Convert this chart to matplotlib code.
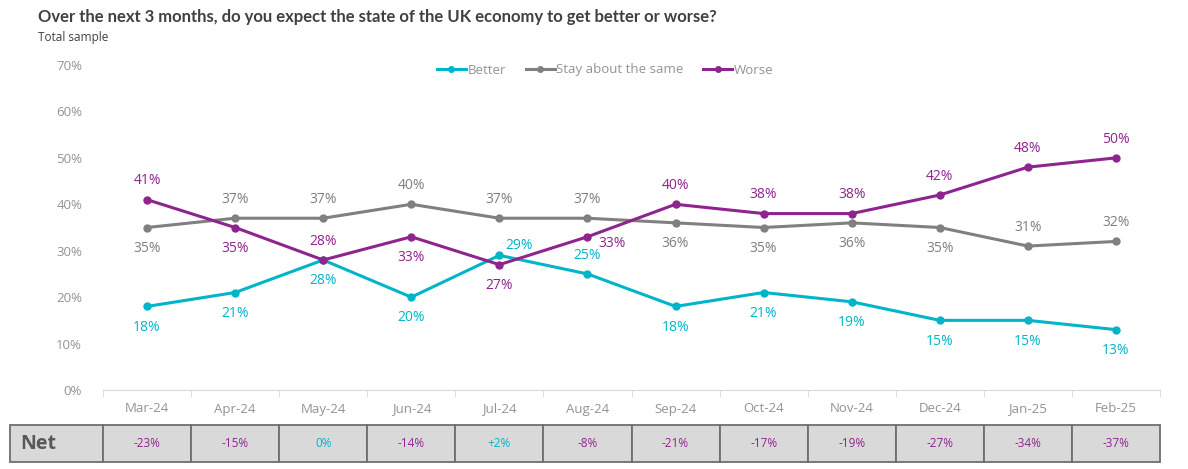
import matplotlib.pyplot as plt
from matplotlib.patches import Rectangle
from matplotlib.lines import Line2D

months = ["Mar-24", "Apr-24", "May-24", "Jun-24", "Jul-24", "Aug-24",
          "Sep-24", "Oct-24", "Nov-24", "Dec-24", "Jan-25", "Feb-25"]
better = [18, 21, 28, 20, 29, 25, 18, 21, 19, 15, 15, 13]
same = [35, 37, 37, 40, 37, 37, 36, 35, 36, 35, 31, 32]
worse = [41, 35, 28, 33, 27, 33, 40, 38, 38, 42, 48, 50]
net = [-23, -15, 0, -14, 2, -8, -21, -17, -19, -27, -34, -37]

# label placement per point: 'a' above, 'b' below, 'r' right-up, 'rd' right-down
better_pos = ["b", "b", "b", "b", "r", "a", "b", "b", "b", "b", "b", "b"]
same_pos = ["b", "a", "a", "a", "a", "a", "b", "b", "b", "b", "a", "a"]
worse_pos = ["a", "b", "a", "b", "b", "rd", "a", "a", "a", "a", "a", "a"]

C_BETTER = "#00b5c9"
C_SAME = "#808080"
C_WORSE = "#8e248e"

plt.rcParams['font.family'] = ['Open Sans', 'DejaVu Sans']

W, H = 1188, 469
fig = plt.figure(figsize=(W / 100, H / 100), dpi=100)

x0, x1 = 103, 1160
y0, y70 = 390, 65
ax = fig.add_axes([x0 / W, 1 - y0 / H, (x1 - x0) / W, (y0 - y70) / H])

xs = list(range(len(months)))
offsets = {"a": (0, 13.5), "b": (0, -15), "r": (14, 7), "rd": (18, -5)}

for vals, pos, col, name in [(better, better_pos, C_BETTER, "Better"),
                             (same, same_pos, C_SAME, "Stay about the same"),
                             (worse, worse_pos, C_WORSE, "Worse")]:
    ax.plot(xs, vals, color=col, lw=2.2, marker="o", ms=5, label=name,
            solid_capstyle="round")
    for x, v, p in zip(xs, vals, pos):
        dx, dy = offsets[p]
        ax.annotate(f"{v}%", (x, v), xytext=(dx, dy), textcoords="offset points",
                    ha="center", va="center", fontsize=10, color=col)

ax.set_xlim(-0.5, len(months) - 0.5)
ax.set_ylim(0, 70)
ax.set_yticks(range(0, 71, 10))
ax.set_yticklabels([f"{t}%" for t in range(0, 71, 10)])
ax.set_xticks(xs)
ax.set_xticklabels(months)
ax.set_xticks([i - 0.5 for i in range(len(months) + 1)], minor=True)
ax.tick_params(axis="x", which="major", length=0, pad=9, labelsize=9.5, labelcolor="#939393")
ax.tick_params(axis="x", which="minor", length=5, color="#d9d9d9", direction="out")
ax.tick_params(axis="y", length=0, pad=15, labelsize=9.5, labelcolor="#939393")
for s in ["top", "right", "left"]:
    ax.spines[s].set_visible(False)
ax.spines["bottom"].set_color("#d9d9d9")

handles = [Line2D([], [], color=c, lw=2.2, marker="o", ms=4) for c in (C_BETTER, C_SAME, C_WORSE)]
fig.legend(handles, ["Better", "Stay about the same", "Worse"], loc="center",
           bbox_to_anchor=(605 / W, 1 - 70 / H), ncol=3, frameon=False,
           fontsize=9.5, labelcolor="#939393", handlelength=2.2, handletextpad=0.1,
           columnspacing=1.5)

fig.text(38 / W, 1 - 17 / H, "Over the next 3 months, do you expect the state of the UK economy to get better or worse?",
         fontsize=12, fontweight="bold", color="#404040", family=["Lato", "DejaVu Sans"], va="center")
fig.text(38 / W, 1 - 38 / H, "Total sample", fontsize=8.5, color="#404040", va="center")

# Net table
ty0, ty1 = 425, 462
cw = (x1 - x0) / len(months)
fig.patches.append(Rectangle((10 / W, 1 - ty1 / H), (x0 - 10) / W, (ty1 - ty0) / H,
                             transform=fig.transFigure, facecolor="#d9d9d9",
                             edgecolor="#6e6e6e", lw=1.3))
fig.text(20 / W, 1 - (ty0 + ty1) / 2 / H, "Net", fontsize=14, fontweight="bold",
         color="#595959", va="center")
for i, n in enumerate(net):
    cx = x0 + i * cw
    fig.patches.append(Rectangle((cx / W, 1 - ty1 / H), cw / W, (ty1 - ty0) / H,
                                 transform=fig.transFigure, facecolor="#d9d9d9",
                                 edgecolor="#6e6e6e", lw=1.3))
    txt = f"+{n}%" if n > 0 else f"{n}%"
    col = C_WORSE if n < 0 else C_BETTER
    fig.text((cx + cw / 2) / W, 1 - (ty0 + ty1) / 2 / H, txt, fontsize=8.5,
             color=col, ha="center", va="center")

fig.savefig("out.png", dpi=100)
